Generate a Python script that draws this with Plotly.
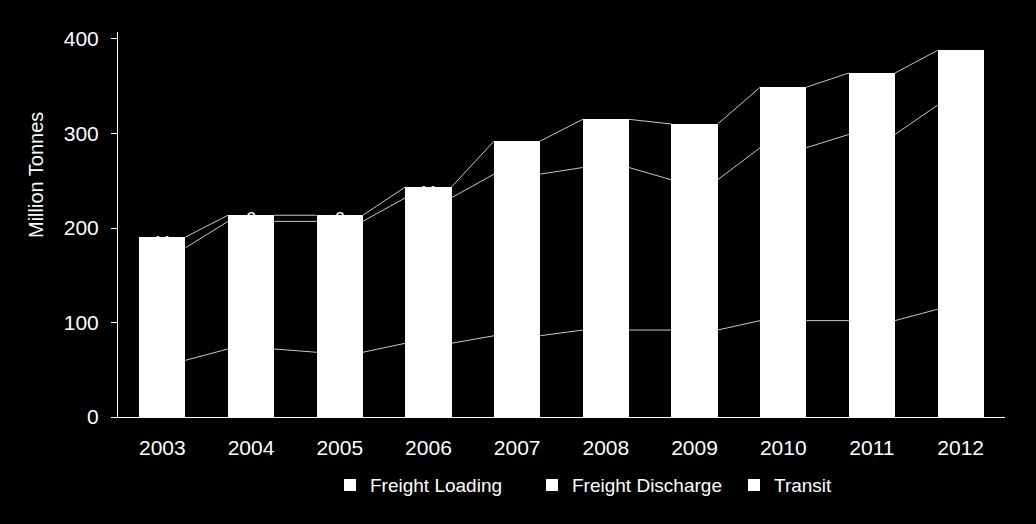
import plotly.graph_objects as go

years = ["2003", "2004", "2005", "2006", "2007", "2008", "2009", "2010", "2011", "2012"]
freight_loading = [60, 72, 68.5, 78, 86, 92, 92, 102, 102, 114]
freight_discharge = [119, 135, 138.5, 154, 171, 172, 159, 183, 197, 216]
transit = [11.4, 6.5, 6.5, 11.4, 35, 51, 59, 64, 65, 58]
y_ticks = [0, 100, 200, 300, 400]

BAR_W = 0.52
FONT = "Liberation Sans, Arial, sans-serif"
xs = list(range(len(years)))

fig = go.Figure()

series = [("Freight Loading", freight_loading, False),
          ("Freight Discharge", freight_discharge, False),
          ("Transit", transit, True)]
for name, vals, lab in series:
    fig.add_trace(go.Bar(
        x=xs, y=vals, name=name, width=BAR_W,
        marker=dict(color="white", line=dict(width=0)),
        text=[f"{v:.0f}" for v in vals] if lab else None,
        textposition="inside" if lab else None,
        insidetextanchor="middle", textangle=0,
        constraintext="none",
        textfont=dict(color="white", size=19, family=FONT),
        hoverinfo="skip",
    ))

# series lines connecting the tops of each stacked segment
cum = [0] * len(years)
for _, vals, _ in series:
    cum = [c + v for c, v in zip(cum, vals)]
    lx, ly = [], []
    for i in range(len(years) - 1):
        lx += [xs[i] + BAR_W / 2, xs[i + 1] - BAR_W / 2, None]
        ly += [cum[i], cum[i + 1], None]
    fig.add_trace(go.Scatter(
        x=lx, y=ly, mode="lines", showlegend=False, hoverinfo="skip",
        line=dict(color="#c8c8c8", width=1),
    ))

fig.update_layout(
    width=1036, height=524,
    margin=dict(l=118, r=31, t=32, b=107),
    paper_bgcolor="black", plot_bgcolor="black",
    barmode="stack",
    font=dict(family=FONT, color="white", size=19),
    showlegend=True,
    legend=dict(orientation="h", traceorder="normal",
                x=0.239, xanchor="left", y=-0.177, yanchor="middle",
                entrywidth=157, entrywidthmode="pixels",
                font=dict(size=19, color="white", family=FONT), bgcolor="rgba(0,0,0,0)"),
    xaxis=dict(
        tickmode="array", tickvals=xs, ticktext=years, range=[-0.5, len(years) - 0.5],
        showgrid=False, zeroline=False, showline=True, linecolor="white", linewidth=1,
        ticks="", tickfont=dict(size=21, color="white", family=FONT), ticklabelstandoff=12,
        fixedrange=True,
    ),
    yaxis=dict(
        range=[0, 407.4], tickmode="array", tickvals=y_ticks,
        showgrid=False, zeroline=False, showline=True, linecolor="white", linewidth=1,
        ticks="outside", ticklen=6, tickcolor="white", tickwidth=1,
        tickfont=dict(size=21, color="white", family=FONT), ticklabelstandoff=8,
        fixedrange=True,
    ),
    annotations=[dict(
        text="Million Tonnes", xref="paper", yref="paper", x=-0.0924, y=0.6286,
        xanchor="center", yanchor="middle", textangle=-90, showarrow=False,
        font=dict(size=20, color="white", family=FONT),
    )],
)

fig.write_html("out.html")
